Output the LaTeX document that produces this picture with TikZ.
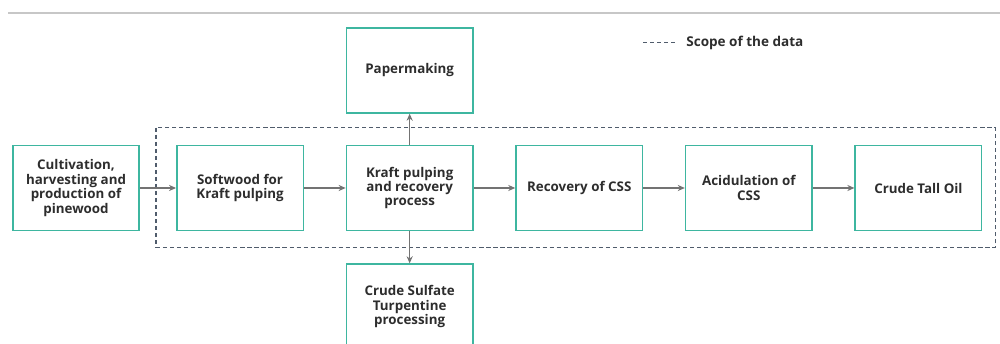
\documentclass[tikz,border=0pt]{standalone}
\usepackage{fontspec}
\setmainfont{Open Sans}
\usetikzlibrary{arrows.meta,positioning}

\definecolor{boxteal}{RGB}{62,182,160}
\definecolor{scopegray}{RGB}{80,92,108}
\definecolor{txtgray}{RGB}{45,45,45}

\begin{document}
\begin{tikzpicture}[
  block/.style={rectangle, draw=boxteal, line width=0.9pt, minimum width=2.53cm,
                minimum height=1.7cm, align=center, inner sep=1pt,
                font=\fontsize{7.6}{8.2}\selectfont\bfseries, text=txtgray},
  arrow/.style={-{Stealth[length=4pt,width=3.5pt]}, draw=black!55, line width=0.6pt},
  scope/.style={draw=scopegray, dash pattern=on 2.4pt off 1.6pt, line width=0.75pt},
  node distance=0.83cm
]
  \useasboundingbox (0,0) rectangle (20,6.88);
  \clip (0,0) rectangle (20,6.88);

  % rule across the top
  \draw[black!22, line width=1.2pt] (0.16,6.62) -- (20,6.62);

  % legend
  \coordinate (leg1) at (12.86,6.03);
  \coordinate (leg2) at (13.54,6.03);
  \draw[scope] (leg1) -- (leg2);
  \node[anchor=west, inner sep=0pt, font=\fontsize{7.7}{8.2}\selectfont\bfseries, text=txtgray]
    (legtxt) at (13.72,6.03) {Scope of the data};

  % main chain
  \node[block] (pine) at (1.52,3.12) {Cultivation,\\harvesting and\\production of\\pinewood};
  \node[block, right=0.72cm of pine] (soft) {Softwood for\\Kraft pulping};
  \node[block, right=of soft] (kraft) {Kraft pulping\\and recovery\\process};
  \node[block, right=of kraft] (css) {Recovery of CSS};
  \node[block, right=of css] (acid) {Acidulation of\\CSS};
  \node[block, right=of acid] (oil) {Crude Tall Oil};

  \node[block, above=0.62cm of kraft] (paper) {Papermaking};
  \node[block, below=0.64cm of kraft] (turp) {Crude Sulfate\\Turpentine\\processing};

  % scope of the data
  \draw[scope] ([shift={(-0.4cm,0.34cm)}]soft.north west) rectangle ([shift={(0.26cm,-0.32cm)}]oil.south east);

  \draw[arrow] (pine) -- (soft);
  \draw[arrow] (soft) -- (kraft);
  \draw[arrow] (kraft) -- (css);
  \draw[arrow] (css) -- (acid);
  \draw[arrow] (acid) -- (oil);
  \draw[arrow] (kraft) -- (paper);
  \draw[arrow] (kraft) -- (turp);
\end{tikzpicture}
\end{document}
